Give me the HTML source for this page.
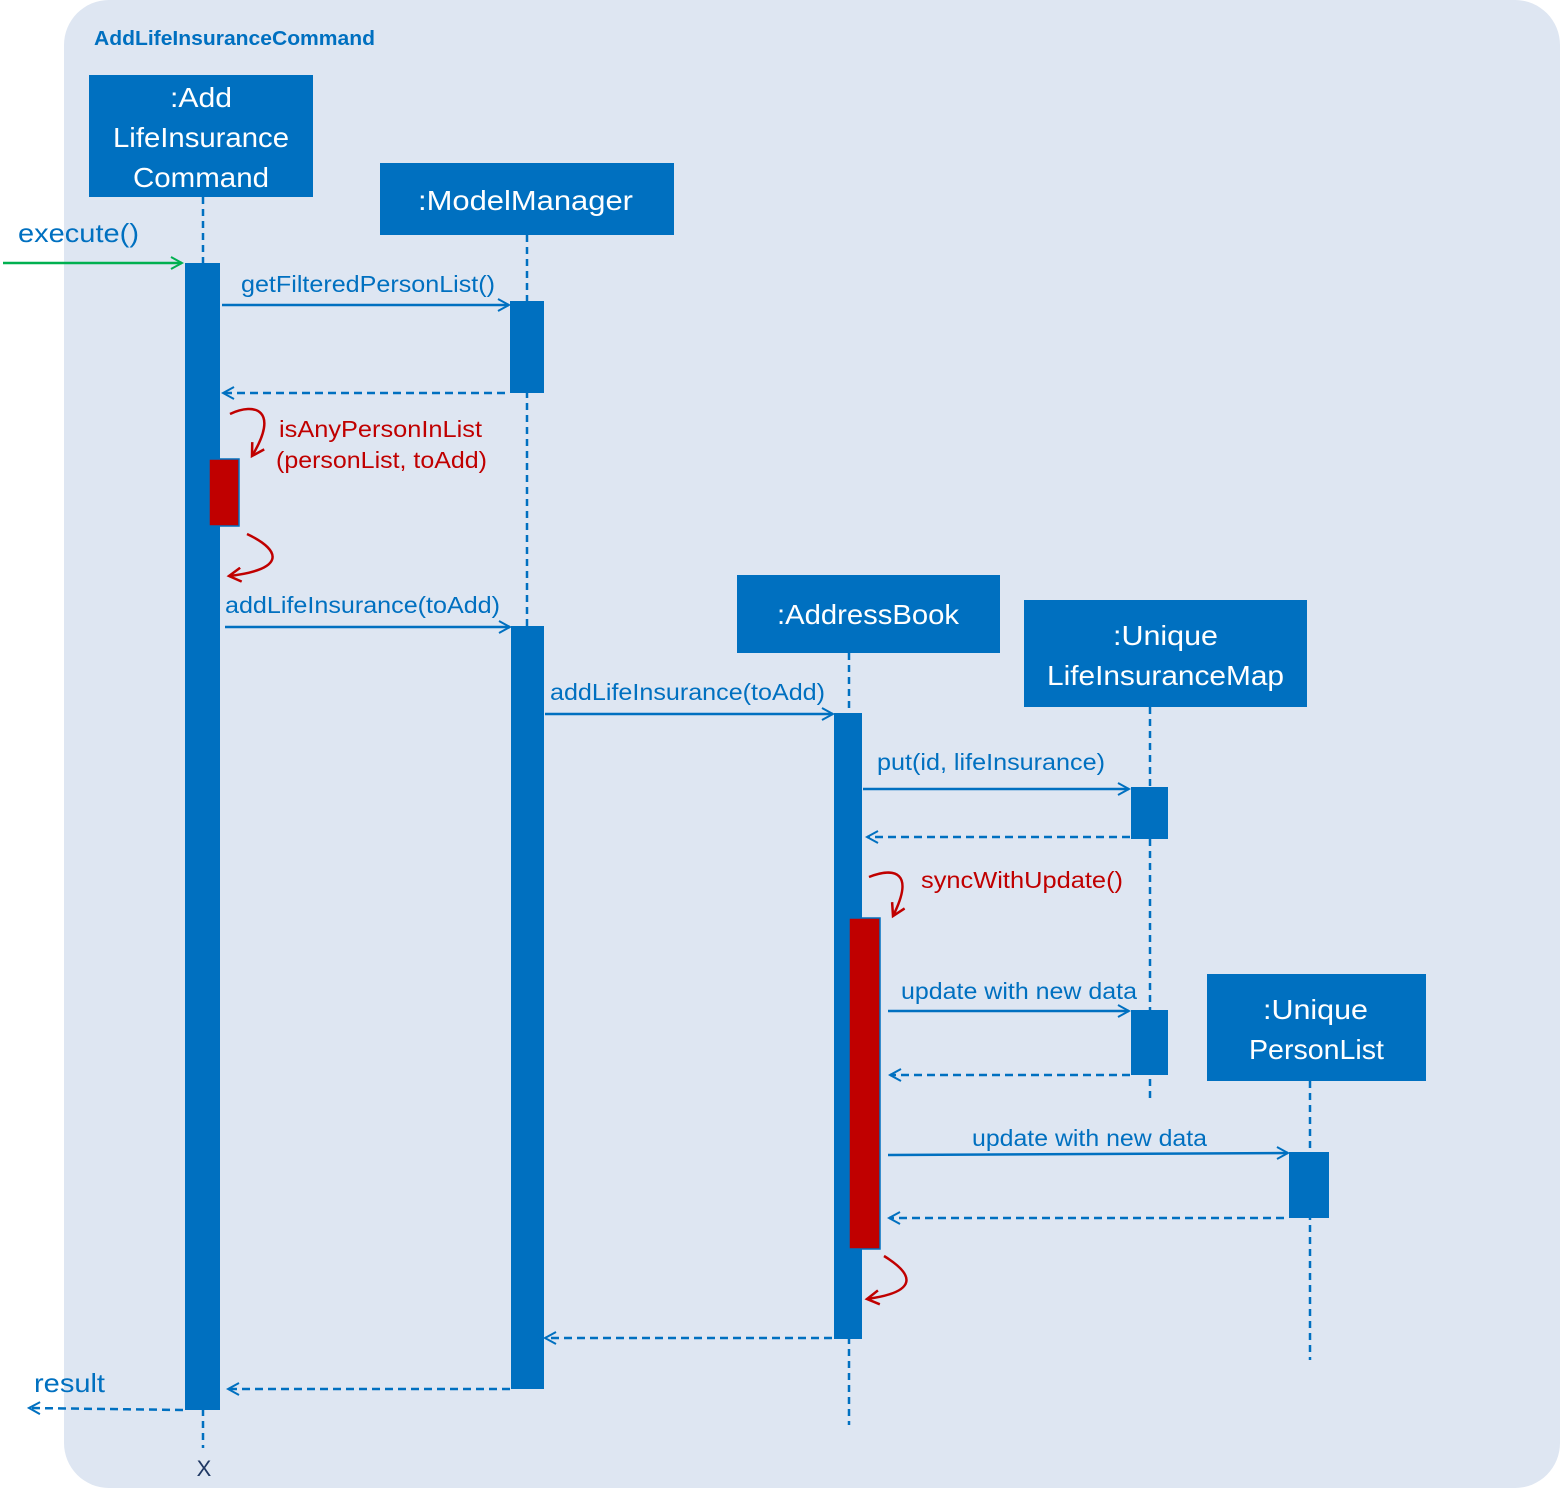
<!DOCTYPE html>
<html><head><meta charset="utf-8"><style>
html,body{margin:0;padding:0;background:#fff;}
svg{display:block;font-family:"Liberation Sans",Arial,sans-serif;}
</style></head><body>
<svg width="1560" height="1495" viewBox="0 0 1560 1495" xmlns="http://www.w3.org/2000/svg">
<defs>
<marker id="ab" markerWidth="14" markerHeight="14" refX="12" refY="7" orient="auto" markerUnits="userSpaceOnUse"><path d="M1,1 L12,7 L1,13" fill="none" stroke="#0070C0" stroke-width="2"/></marker>
<marker id="ag" markerWidth="14" markerHeight="14" refX="12" refY="7" orient="auto" markerUnits="userSpaceOnUse"><path d="M1,1 L12,7 L1,13" fill="none" stroke="#00B050" stroke-width="2"/></marker>
<marker id="ar" markerWidth="16" markerHeight="16" refX="13" refY="8" orient="auto" markerUnits="userSpaceOnUse"><path d="M1,1 L13,8 L1,15" fill="none" stroke="#C00000" stroke-width="2.5"/></marker>
</defs>
<rect x="64" y="0" width="1496" height="1488" rx="45" fill="#DEE6F2"/>
<text x="94" y="45" font-size="20" font-weight="bold" fill="#0070C0" textLength="281" lengthAdjust="spacingAndGlyphs">AddLifeInsuranceCommand</text>

<g stroke="#0070C0" stroke-width="2.5" stroke-dasharray="7,5" fill="none">
<line x1="203" y1="197" x2="203" y2="1448"/>
<line x1="527" y1="235" x2="527" y2="626"/>
<line x1="849" y1="653" x2="849" y2="1425"/>
<line x1="1150" y1="707" x2="1150" y2="1100"/>
<line x1="1310" y1="1081" x2="1310" y2="1360"/>
</g>

<g fill="#0070C0">
<rect x="89" y="75" width="224" height="122"/>
<rect x="380" y="163" width="294" height="72"/>
<rect x="737" y="575" width="263" height="78"/>
<rect x="1024" y="600" width="283" height="107"/>
<rect x="1207" y="974" width="219" height="107"/>
</g>
<g fill="#fff" font-size="28" lengthAdjust="spacingAndGlyphs">
<text x="170" y="107" textLength="62" lengthAdjust="spacingAndGlyphs">:Add</text>
<text x="113" y="147" textLength="176" lengthAdjust="spacingAndGlyphs">LifeInsurance</text>
<text x="133" y="187" textLength="136" lengthAdjust="spacingAndGlyphs">Command</text>
<text x="418" y="210" textLength="215" lengthAdjust="spacingAndGlyphs">:ModelManager</text>
<text x="777" y="624" textLength="182" lengthAdjust="spacingAndGlyphs">:AddressBook</text>
<text x="1113" y="645" textLength="105" lengthAdjust="spacingAndGlyphs">:Unique</text>
<text x="1047" y="685" textLength="237" lengthAdjust="spacingAndGlyphs">LifeInsuranceMap</text>
<text x="1263" y="1019" textLength="105" lengthAdjust="spacingAndGlyphs">:Unique</text>
<text x="1249" y="1059" textLength="135" lengthAdjust="spacingAndGlyphs">PersonList</text>
</g>

<g fill="#0070C0">
<rect x="185" y="263" width="35" height="1147"/>
<rect x="510" y="301" width="34" height="92"/>
<rect x="511" y="626" width="33" height="763"/>
<rect x="834" y="713" width="28" height="626"/>
<rect x="1131" y="787" width="37" height="52"/>
<rect x="1131" y="1010" width="37" height="65"/>
<rect x="1289" y="1152" width="40" height="66"/>
</g>
<g fill="#C00000" stroke="#0070C0" stroke-width="1.5">
<rect x="209" y="459" width="30" height="67"/>
<rect x="849" y="918" width="31" height="331"/>
</g>

<line x1="3" y1="263" x2="182" y2="263" stroke="#00B050" stroke-width="2.5" marker-end="url(#ag)"/>
<g stroke="#0070C0" stroke-width="2.5" fill="none">
<line x1="222" y1="305" x2="509" y2="305" marker-end="url(#ab)"/>
<line x1="225" y1="627" x2="510" y2="627" marker-end="url(#ab)"/>
<line x1="545" y1="714" x2="833" y2="714" marker-end="url(#ab)"/>
<line x1="863" y1="789" x2="1129" y2="789" marker-end="url(#ab)"/>
<line x1="888" y1="1011" x2="1129" y2="1011" marker-end="url(#ab)"/>
<line x1="888" y1="1155" x2="1288" y2="1153" marker-end="url(#ab)"/>
</g>
<g stroke="#0070C0" stroke-width="2.5" fill="none" stroke-dasharray="8,5">
<line x1="505" y1="393" x2="223" y2="393" marker-end="url(#ab)"/>
<line x1="1130" y1="837" x2="867" y2="837" marker-end="url(#ab)"/>
<line x1="1130" y1="1075" x2="890" y2="1075" marker-end="url(#ab)"/>
<line x1="1284" y1="1218" x2="889" y2="1218" marker-end="url(#ab)"/>
<line x1="832" y1="1338" x2="545" y2="1338" marker-end="url(#ab)"/>
<line x1="510" y1="1389" x2="228" y2="1389" marker-end="url(#ab)"/>
<line x1="183" y1="1410" x2="29" y2="1408" marker-end="url(#ab)"/>
</g>
<g stroke="#C00000" stroke-width="2.5" fill="none">
<path d="M230,414 C255,402 280,410 252,456" marker-end="url(#ar)"/>
<path d="M247,534 C285,552 282,570 229,576" marker-end="url(#ar)"/>
<path d="M869,877 C895,867 915,872 893,916" marker-end="url(#ar)"/>
<path d="M884,1256 C915,1275 918,1292 867,1299" marker-end="url(#ar)"/>
</g>

<g fill="#0070C0" font-size="23">
<text x="18" y="242" font-size="26" textLength="121" lengthAdjust="spacingAndGlyphs">execute()</text>
<text x="241" y="292" textLength="254" lengthAdjust="spacingAndGlyphs">getFilteredPersonList()</text>
<text x="225" y="613" textLength="275" lengthAdjust="spacingAndGlyphs">addLifeInsurance(toAdd)</text>
<text x="550" y="700" textLength="275" lengthAdjust="spacingAndGlyphs">addLifeInsurance(toAdd)</text>
<text x="877" y="770" textLength="228" lengthAdjust="spacingAndGlyphs">put(id, lifeInsurance)</text>
<text x="901" y="999" textLength="236" lengthAdjust="spacingAndGlyphs">update with new data</text>
<text x="972" y="1146" textLength="235" lengthAdjust="spacingAndGlyphs">update with new data</text>
<text x="34" y="1392" font-size="26" textLength="71" lengthAdjust="spacingAndGlyphs">result</text>
</g>
<g fill="#C00000" font-size="23">
<text x="279" y="437" textLength="203" lengthAdjust="spacingAndGlyphs">isAnyPersonInList</text>
<text x="276" y="468" textLength="211" lengthAdjust="spacingAndGlyphs">(personList, toAdd)</text>
<text x="921" y="888" textLength="202" lengthAdjust="spacingAndGlyphs">syncWithUpdate()</text>
</g>
<text x="204" y="1476" font-size="22" fill="#1F3864" text-anchor="middle">X</text>
</svg>
</body></html>
